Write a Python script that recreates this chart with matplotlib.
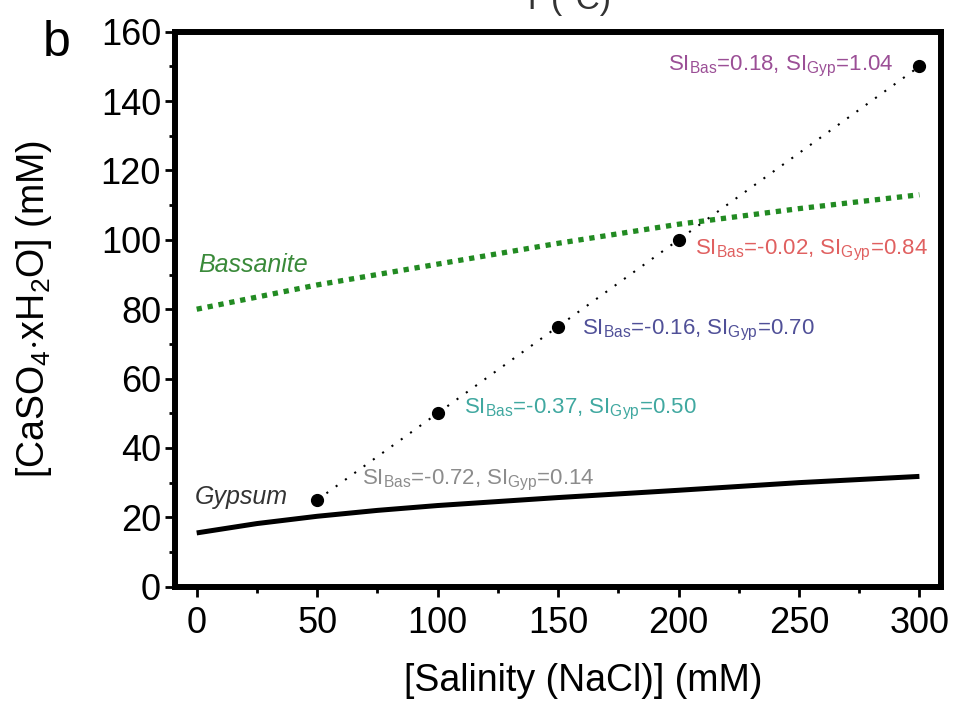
import matplotlib
matplotlib.use("Agg")
from matplotlib import pyplot as plt
from matplotlib.ticker import MultipleLocator

plt.rcParams['font.family'] = ['Liberation Sans', 'DejaVu Sans']
plt.rcParams['mathtext.fontset'] = 'custom'
plt.rcParams['mathtext.rm'] = 'Liberation Sans'
plt.rcParams['mathtext.it'] = 'Liberation Sans:italic'

# measured solubility points
salinity = [50, 100, 150, 200, 300]
caso4 = [25, 50, 75, 100, 150]

# solubility curves
bas_x = [0, 50, 100, 150, 200, 250, 300]
bassanite = [80, 87, 93, 99, 104.5, 109, 113]
gyp_x = [0, 25, 50, 75, 100, 150, 200, 250, 300]
gypsum = [15.5, 18.2, 20.3, 22, 23.4, 25.7, 27.8, 30, 31.8]

# saturation index labels
si_bas = ["0.18", "-0.02", "-0.16", "-0.37", "-0.72"]
si_gyp = ["1.04", "0.84", "0.70", "0.50", "0.14"]
si_colors = ["#9b4f96", "#e06060", "#505098", "#40a8a0", "#8c8c8c"]

fig = plt.figure(figsize=(9.6, 7.05), dpi=100)
ax = fig.add_axes([0.1823, 0.1678, 0.798, 0.7872])

ax.plot(bas_x, bassanite, color="#228b22", lw=3.8, linestyle=(0, (1, 1.1)))
ax.plot(gyp_x, gypsum, color="black", lw=3.6, solid_capstyle="butt")
ax.plot(salinity, caso4, color="black", lw=1.5, linestyle=(0, (1, 4.5)))
ax.plot(salinity, caso4, "o", color="black", markersize=8.5, linestyle="none")

# annotation placement (x, y, ha)
places = [(289, 150, "right"), (207, 97, "left"), (160, 74, "left"),
          (111, 51, "left"), (68.5, 30.5, "left")]
for (tx, ty, ha), b, g, c in zip(places, si_bas, si_gyp, si_colors):
    ax.text(tx, ty, r"SI$_{\rm Bas}$=" + b + r", SI$_{\rm Gyp}$=" + g,
            color=c, fontsize=16, ha=ha, va="center")

ax.text(0.5, 92.7, "Bassanite", color="#3a8a3a", fontsize=18, style="italic",
        ha="left", va="center")
ax.text(-0.8, 25.8, "Gypsum", color="#333333", fontsize=18, style="italic",
        ha="left", va="center")

ax.set_xlim(-9, 309)
ax.set_ylim(0, 160)
ax.xaxis.set_major_locator(MultipleLocator(50))
ax.xaxis.set_minor_locator(MultipleLocator(25))
ax.yaxis.set_major_locator(MultipleLocator(20))
ax.yaxis.set_minor_locator(MultipleLocator(10))

for s in ax.spines.values():
    s.set_linewidth(4.3)
ax.tick_params(which="major", direction="out", length=7, width=2, labelsize=26, pad=3)
ax.tick_params(axis="x", which="major", pad=7)
ax.tick_params(which="minor", direction="out", length=4.5, width=2)

ax.set_xlabel("[Salinity (NaCl)] (mM)", fontsize=27)
ax.xaxis.set_label_coords(0.533, -0.1375)
ax.set_ylabel(r"[CaSO$_4$$\cdot$xH$_2$O] (mM)", fontsize=27, labelpad=34)

fig.text(0.059, 0.939, "b", fontsize=36, ha="center", va="center")
fig.text(0.59, 1 - 9 / 705, "T (°C)", fontsize=24, ha="center", va="baseline", color="#333333")

fig.savefig("out.png", dpi=100)
